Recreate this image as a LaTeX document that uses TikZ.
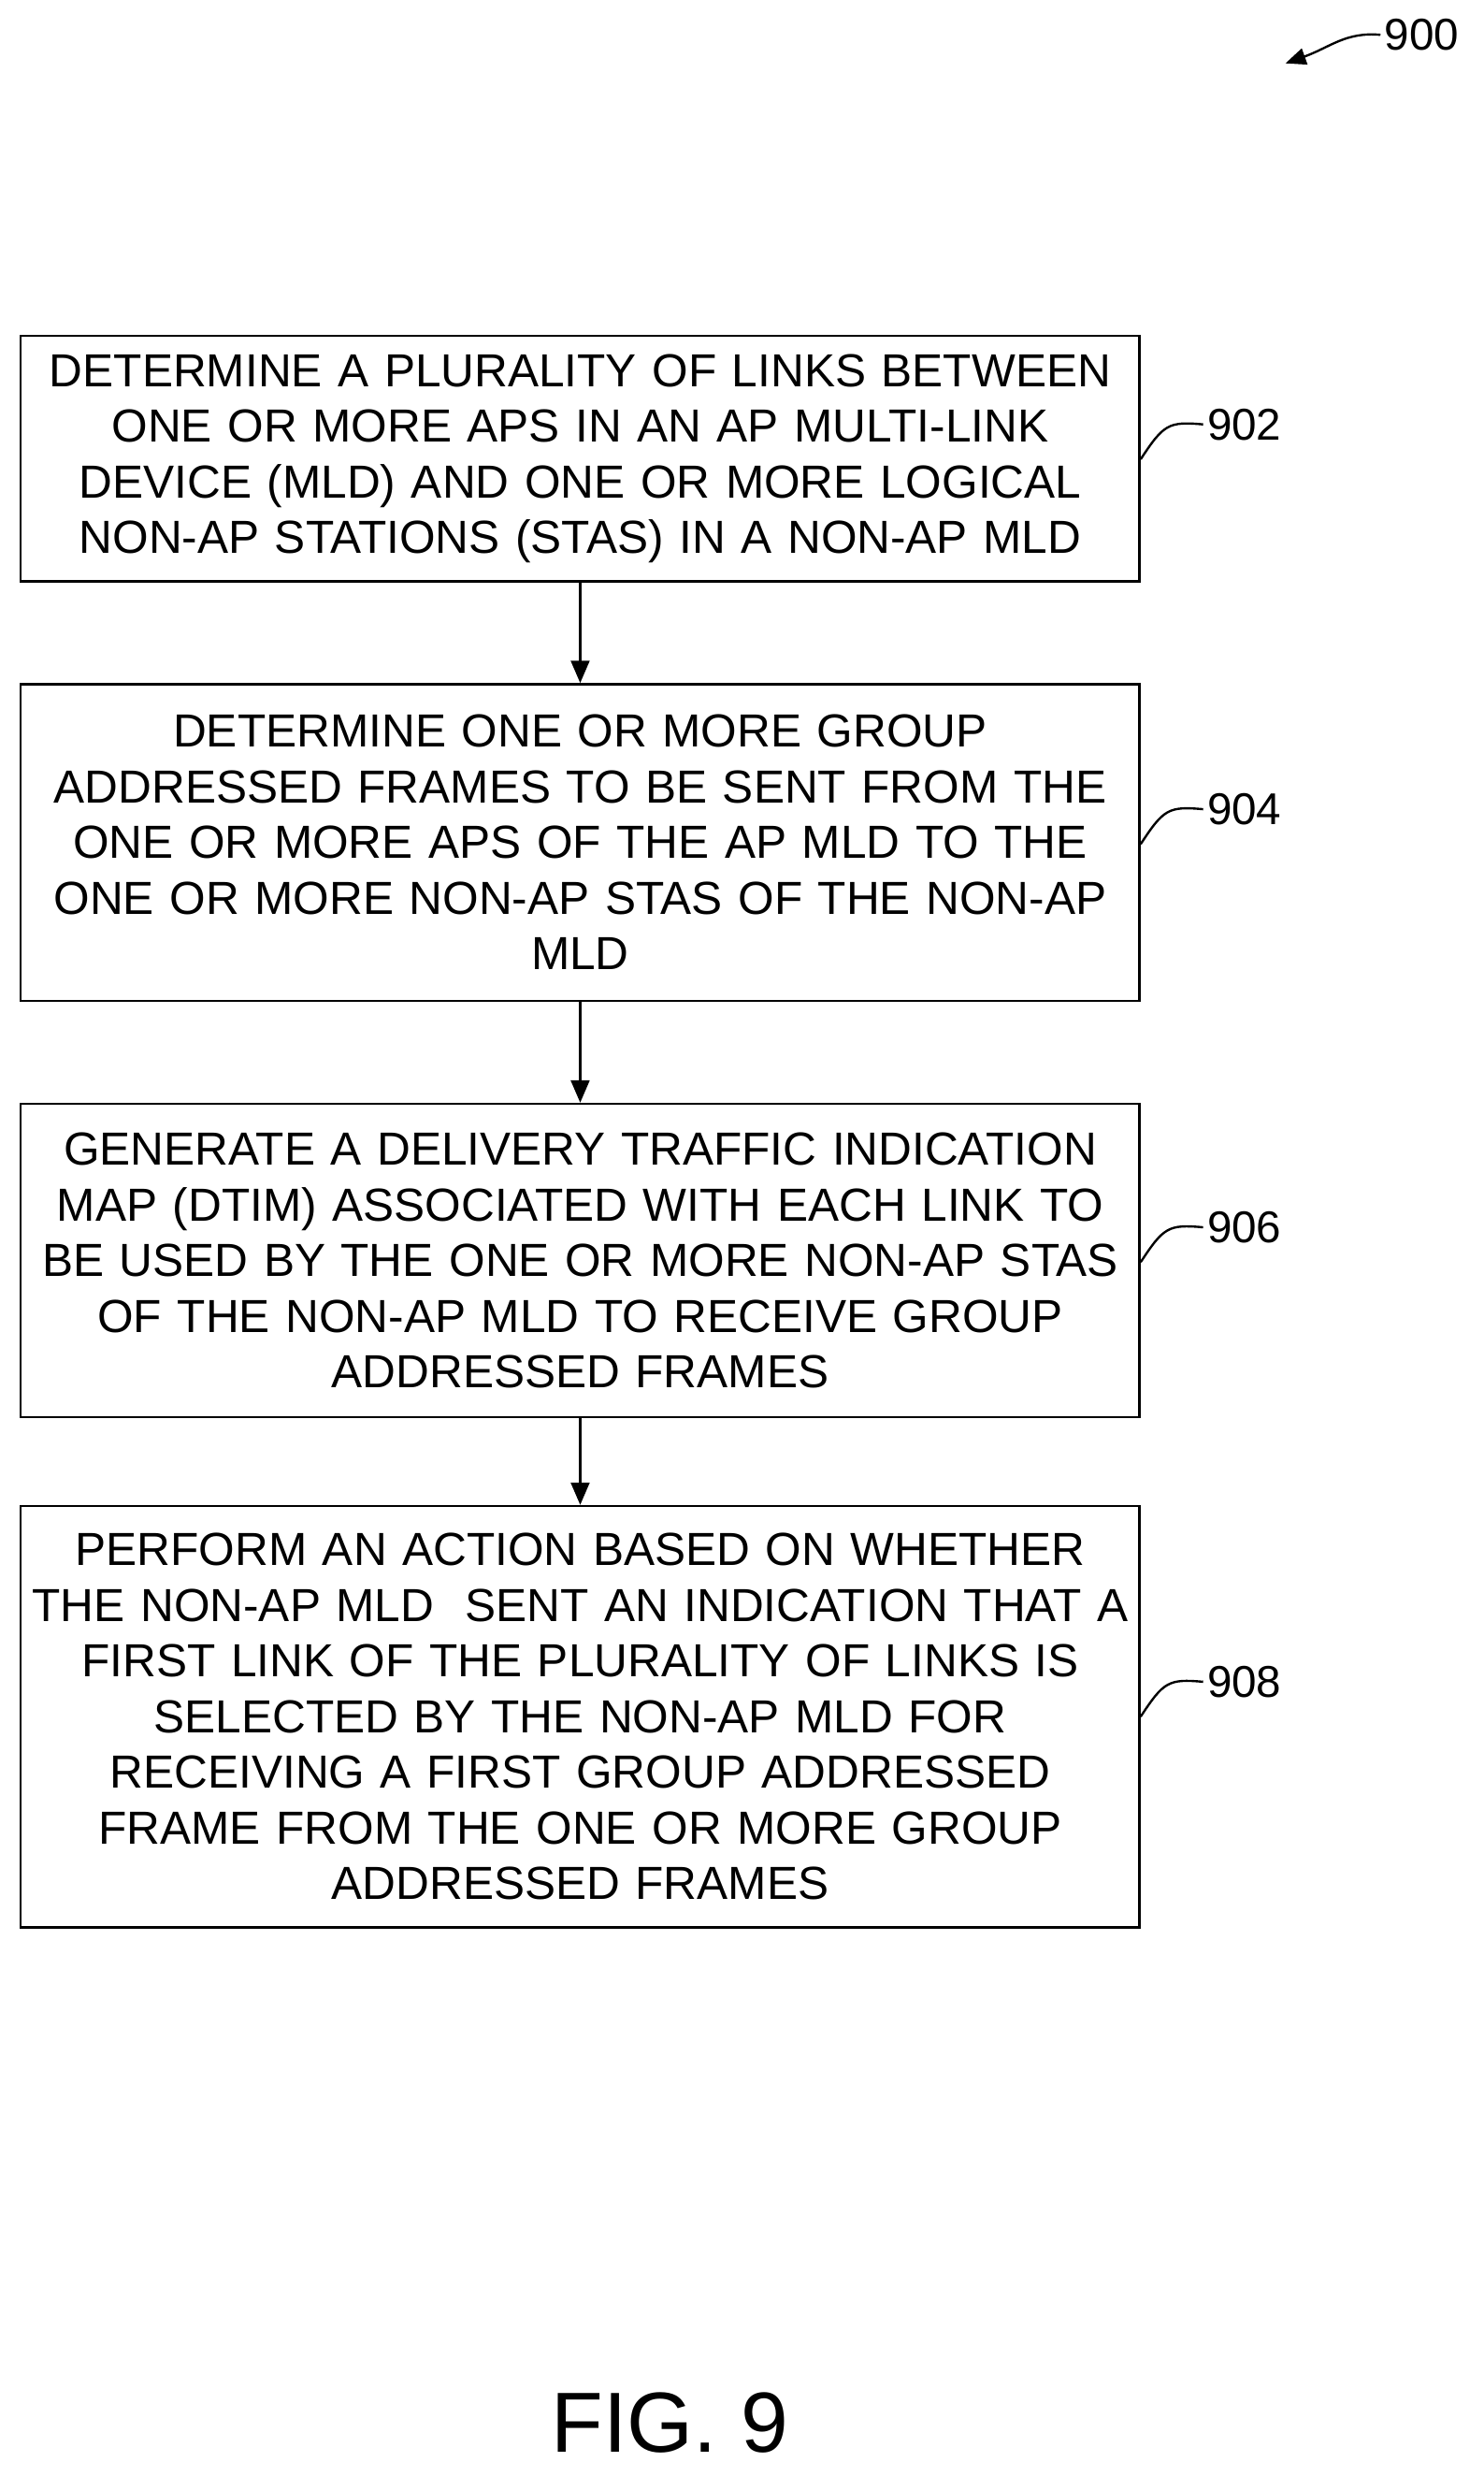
\documentclass[tikz,border=0pt]{standalone}
\usepackage{fontspec}
\setmainfont{Liberation Sans}
\usetikzlibrary{arrows.meta,positioning}
\tikzset{
  flowbox/.style={draw,line width=1.2pt,text width=20.8cm,align=center,inner sep=0pt,
    minimum width=21.2cm,font=\fontsize{25}{30}\selectfont},
  flow/.style={-{Triangle[width=10pt,length=12pt]},line width=1.2pt},
  lead/.style={line width=1.2pt},
  tag/.style={anchor=west,font=\fontsize{24}{28}\selectfont,inner sep=2pt}
}
\begin{document}
\begin{tikzpicture}[x=0.03cm,y=-0.03cm]
  \useasboundingbox[fill=white] (0,0) rectangle (937,1573);
  % steps
  \node[flowbox,minimum height=4.65cm] (s902) at (366.5,289.5)
    {DETERMINE A PLURALITY OF LINKS BETWEEN\\ONE OR MORE APS IN AN AP MULTI-LINK\\DEVICE (MLD) AND ONE OR MORE LOGICAL\\NON-AP STATIONS (STAS) IN A NON-AP MLD};
  \node[flowbox,minimum height=6cm] (s904) at (366.5,532)
    {DETERMINE ONE OR MORE GROUP\\ADDRESSED FRAMES TO BE SENT FROM THE\\ONE OR MORE APS OF THE AP MLD TO THE\\ONE OR MORE NON-AP STAS OF THE NON-AP\\MLD};
  \node[flowbox,minimum height=5.94cm] (s906) at (366.5,796)
    {GENERATE A DELIVERY TRAFFIC INDICATION\\MAP (DTIM) ASSOCIATED WITH EACH LINK TO\\BE USED BY THE ONE OR MORE NON-AP STAS\\OF THE NON-AP MLD TO RECEIVE GROUP\\ADDRESSED FRAMES};
  \node[flowbox,minimum height=7.98cm] (s908) at (366.5,1084)
    {PERFORM AN ACTION BASED ON WHETHER\\THE NON-AP MLD\ \ SENT AN INDICATION THAT A\\FIRST LINK OF THE PLURALITY OF LINKS IS\\SELECTED BY THE NON-AP MLD FOR\\RECEIVING A FIRST GROUP ADDRESSED\\FRAME FROM THE ONE OR MORE GROUP\\ADDRESSED FRAMES};
  \draw[flow] (s902) -- (s904);
  \draw[flow] (s904) -- (s906);
  \draw[flow] (s906) -- (s908);
  % reference numerals
  \foreach \n/\y in {902/268,904/511,906/775,908/1062}{
    \node[tag] (t\n) at (760,\y) {\n};
    \draw[lead] (s\n.east |- 0,\y+22) .. controls (735,\y) and (738,\y-2) .. (t\n.west);
  }
  \node[tag] (t900) at (872,22) {900};
  \coordinate (p900) at (812,40);
  \draw[lead,-{Triangle[width=9pt,length=11pt]}] (t900.west) .. controls (850,20) and (840,30) .. (p900);
  \node[font=\fontsize{46}{50}\selectfont] (fig) at (423,1530) {FIG. 9};
\end{tikzpicture}
\end{document}
